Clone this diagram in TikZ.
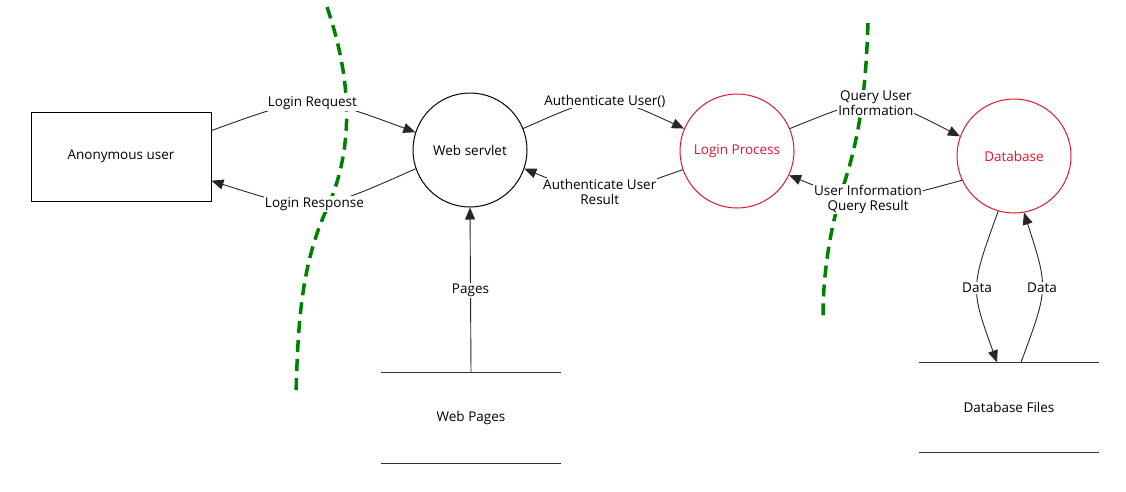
\documentclass[tikz,border=0pt]{standalone}
\usepackage{fontspec}
\setmainfont{Open Sans}
\usetikzlibrary{arrows.meta,calc}
\definecolor{dfdred}{RGB}{222,24,48}
\definecolor{bgreen}{RGB}{0,128,0}
\begin{document}
\begin{tikzpicture}[x=1pt,y=-1pt,
  every node/.style={font=\fontsize{13.5}{14.5}\selectfont},
  proc/.style={circle,draw=black,line width=1pt,minimum size=114pt,inner sep=0pt},
  redproc/.style={proc,draw=dfdred,text=dfdred},
  ext/.style={rectangle,draw=black,line width=1pt,minimum width=180pt,minimum height=89pt},
  store/.style={rectangle,minimum width=180pt,minimum height=90pt},
  storeline/.style={draw=black!80,line width=1pt},
  flow/.style={draw=black!85,line width=0.9pt,-{Triangle[length=12pt,width=10pt]}},
  lab/.style={fill=white,inner sep=1pt,align=center,font=\fontsize{13.5}{14.5}\selectfont},
  boundary/.style={draw=bgreen,line width=3.5pt,dash pattern=on 12pt off 7pt}]
\useasboundingbox (0,0) rectangle (1126,491);

% trust boundaries
\draw[boundary] (327,7) .. controls (352,80) and (355,150) .. (325,213)
  .. controls (300,270) and (298,330) .. (296,393);
\draw[boundary] (868,23) .. controls (866,80) and (862,130) .. (843,187)
  .. controls (828,235) and (823,280) .. (823,317);

% nodes
\node[ext] (anon) at (121,156.5) {Anonymous user};
\node[proc] (ws) at (470,150) {Web servlet};
\node[redproc] (lp) at (737,151) {Login Process};
\node[redproc] (db) at (1014,156) {Database};
\node[store] (wp) at (471,418) {Web Pages};
\node[store] (dbf) at (1009,407.5) {Database Files};
\draw[storeline] (wp.north west) -- (wp.north east) (wp.south west) -- (wp.south east);
\draw[storeline] (dbf.north west) -- (dbf.north east) (dbf.south west) -- (dbf.south east);

% flows
\draw[flow] (anon.16) .. controls (312,94) .. node[lab]{Login Request} (ws.162);
\draw[flow] (ws.199) .. controls (314.7,213.7) .. node[lab]{Login Response} (anon.345);
\draw[flow] (ws.22) .. controls (605.2,92.2) .. node[lab]{Authenticate User()} (lp.157);
\draw[flow] (lp.199) .. controls (598.5,199.3) .. node[lab]{Authenticate User\\Result} (ws.341);
\draw[flow] (lp.23) .. controls (876.2,93.5) .. node[lab]{Query User\\Information} (db.160.7);
\draw[flow] (db.205) .. controls (865.5,206.5) .. node[lab]{User Information\\Query Result} (lp.335);
\draw[flow] (wp.north) -- node[lab]{Pages} (ws.south);
\draw[flow] (db.254) .. controls (970.2,288.3) .. node[lab]{Data} ($(dbf.north)+(-12,0)$);
\draw[flow] ($(dbf.north)+(12,0)$) .. controls (1048.5,288.3) .. node[lab]{Data} (db.280);
\end{tikzpicture}
\end{document}
